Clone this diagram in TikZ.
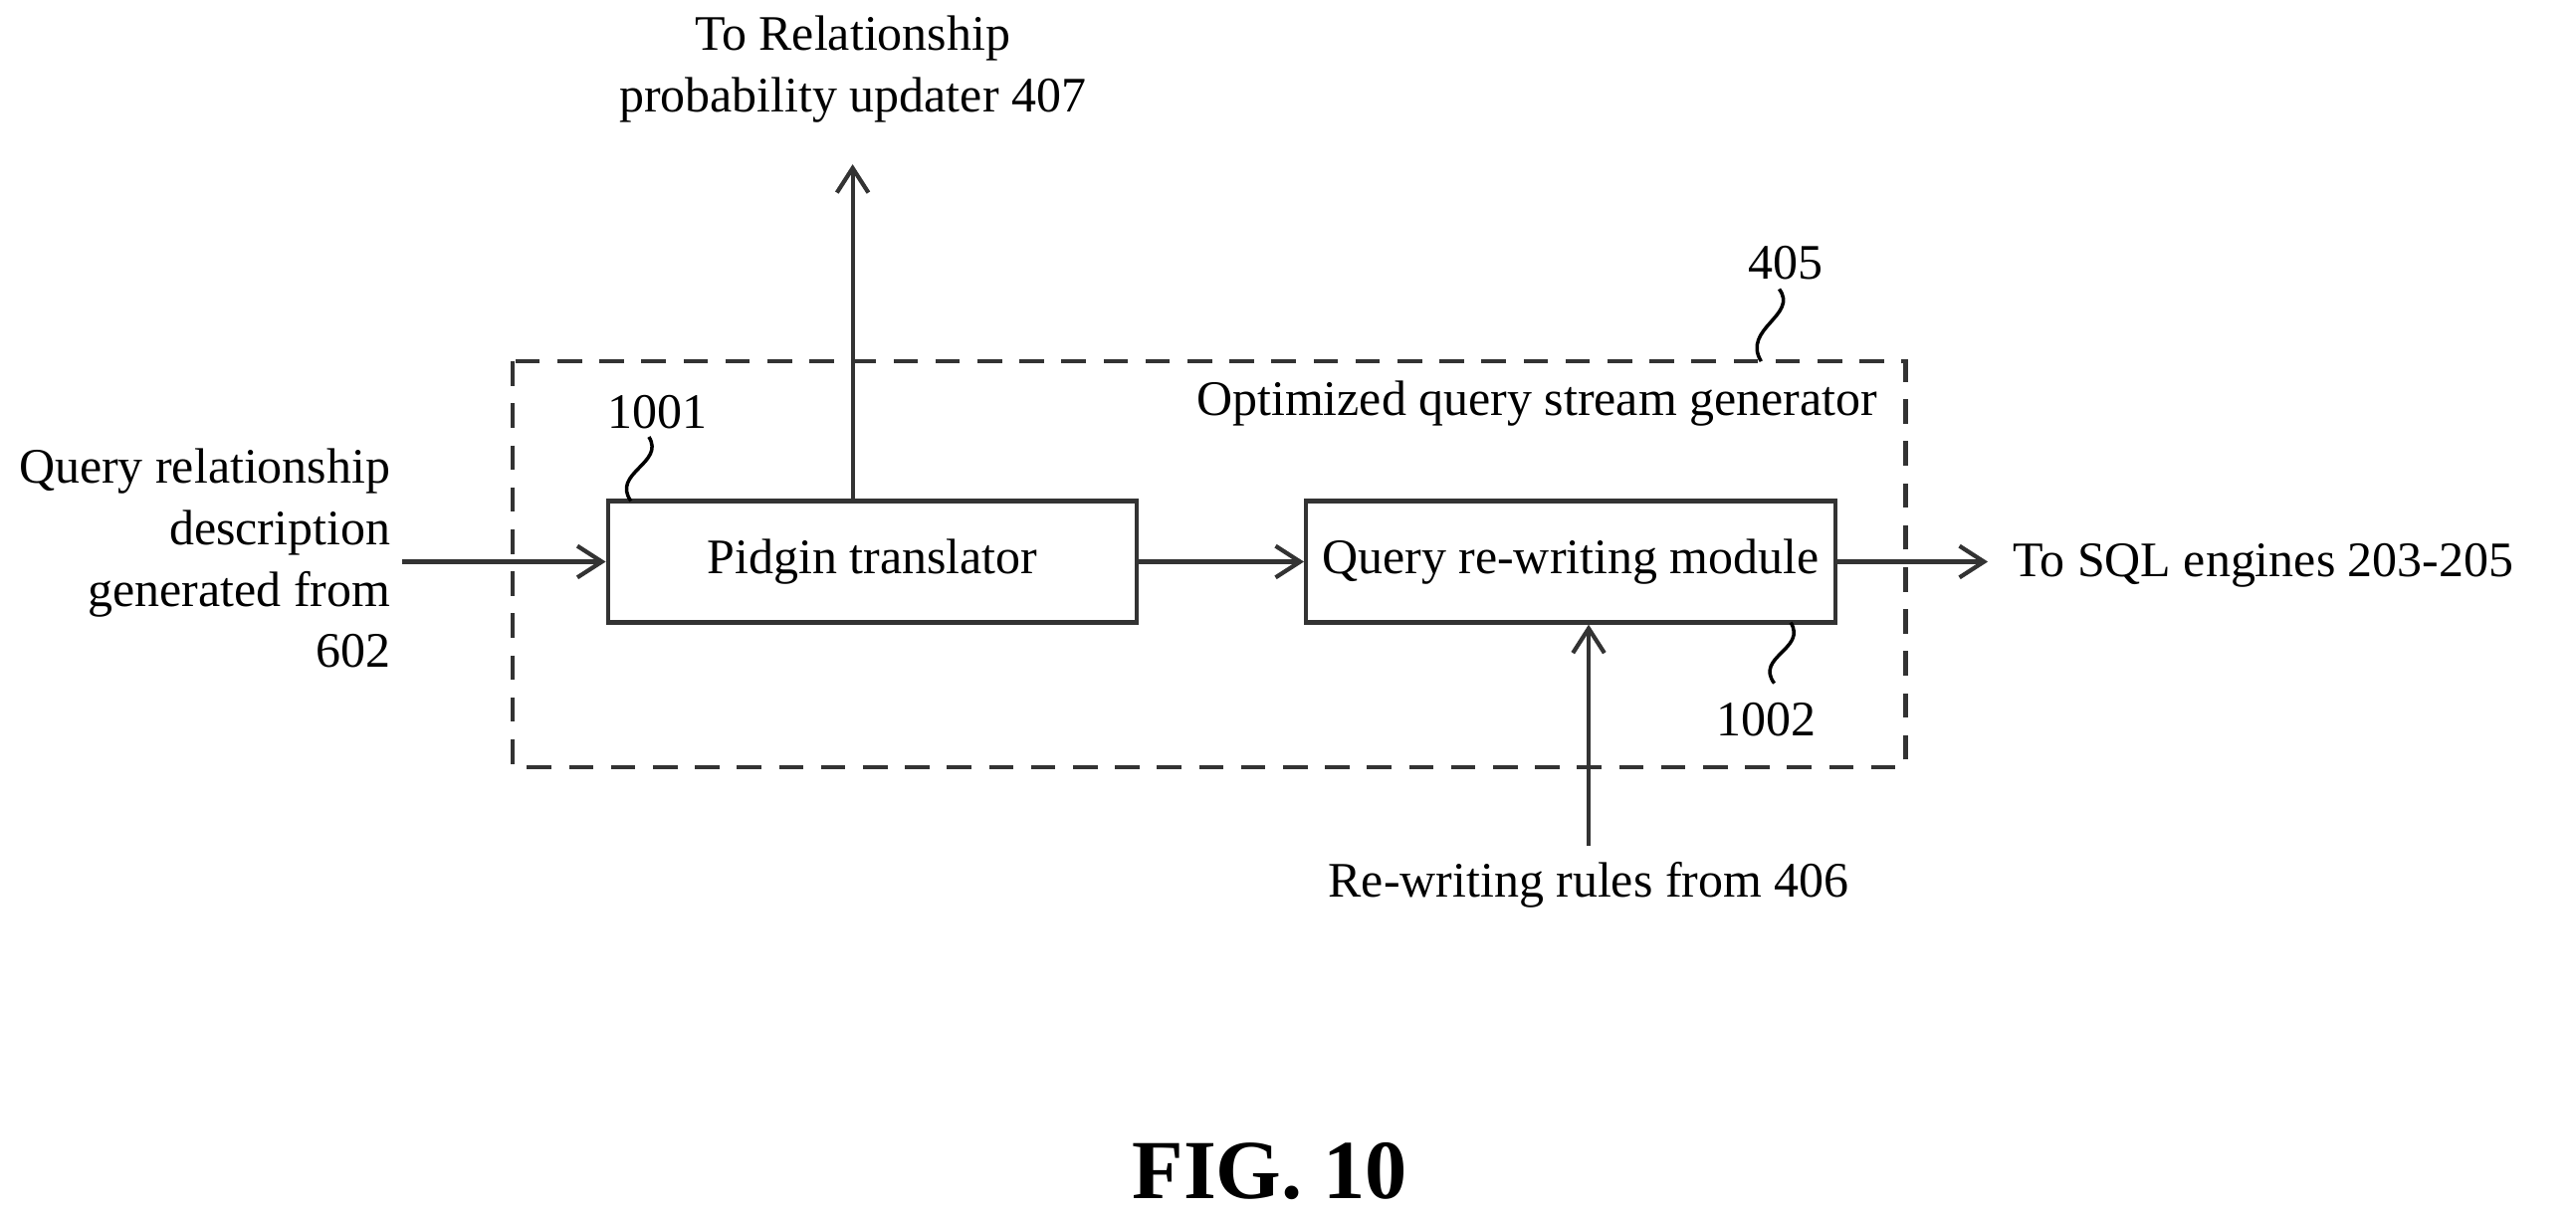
\documentclass[tikz,border=0pt]{standalone}
\usepackage{fontspec}
\setmainfont{Liberation Serif}
\usetikzlibrary{arrows.meta}
\begin{document}
\begin{tikzpicture}[x=0.0165cm,y=-0.0165cm,
  every node/.style={font=\fontsize{14.2}{17.5}\selectfont,inner sep=0pt},
  ln/.style={line width=1.2pt,draw=black!80},
  arr/.style={ln,-{Straight Barb[length=7pt,width=9pt,line width=1.2pt]}},
  box/.style={ln,draw,minimum width={322*0.0165cm},minimum height={74*0.0165cm}},
  sq/.style={line width=1pt}]
\useasboundingbox (0,0) rectangle (1568,740);
\draw[ln,dashed,dash pattern=on 7pt off 5pt] (312,220) rectangle (1160,467);
\node[box] (p) at (531,342) {Pidgin translator};
\node[box] (q) at (956,342) {Query re-writing module};
\node[align=center] (top) at (519,42) {To Relationship\\probability updater 407};
\coordinate (topend) at (519,100);
\node[align=right,anchor=east] (left) at (238,340) {Query relationship\\description\\generated from\\602};
\coordinate (lstart) at (245,342);
\node[anchor=west] (sql) at (1225,344) {To SQL engines 203-205};
\coordinate (rend) at (1210,342);
\node (rw) at (967,539) {Re-writing rules from 406};
\coordinate (rwstart) at (967,515);
\draw[arr] (lstart) -- (p.west);
\draw[arr] (p.east) -- (q.west);
\draw[arr] (q.east) -- (rend);
\draw[arr] (p.north -| topend) -- (topend);
\draw[arr] (rwstart) -- (q.south -| rwstart);
\node (n405) at (1087,160) {405};
\node[anchor=east] (osg) at (1143,246) {Optimized query stream generator};
\node (n1001) at (400,251) {1001};
\node (n1002) at (1075,438) {1002};
\draw[sq] (1083,176) .. controls (1095,192) and (1060,200) .. (1072,220);
\draw[sq] (395,266) .. controls (405,282) and (372,288) .. (384,305);
\draw[sq] (1080,416) .. controls (1068,400) and (1100,395) .. (1090,379);
\node[font=\bfseries\fontsize{24}{28}\selectfont] (fig) at (773,713) {FIG. 10};
\end{tikzpicture}
\end{document}
